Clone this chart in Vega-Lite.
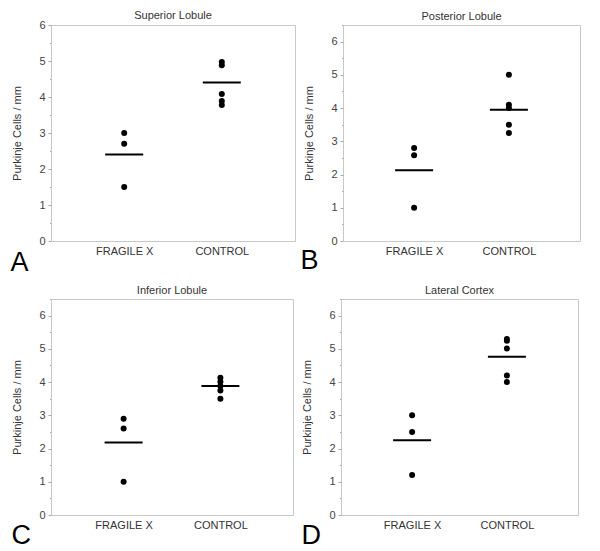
{
  "$schema": "https://vega.github.io/schema/vega-lite/v6.json",
  "padding": {"left": 9, "top": 9, "right": 0, "bottom": 0},
  "background": "white",
  "config": {
    "font": "Liberation Sans",
    "view": {"stroke": "#c8c8c8", "strokeWidth": 1},
    "title": {"fontSize": 11, "fontWeight": "normal", "color": "#333", "offset": 2.5, "font": "Liberation Sans"},
    "axis": {"labelOverlap": false},
    "axisY": {
      "domain": false, "grid": false, "labelFontSize": 11, "labelColor": "#444",
      "labelFont": "Liberation Sans", "tickColor": "#aaa", "labelPadding": 3,
      "labelFlush": false, "labelOverlap": false,
      "titleFontSize": 11, "titleFontWeight": "normal", "titleColor": "#333",
      "titleFont": "Liberation Sans", "titlePadding": 16
    },
    "axisX": {
      "domain": false, "ticks": false, "grid": false, "labelFontSize": 11, "labelColor": "#333",
      "labelFont": "Liberation Sans", "labelPadding": 4, "labelAngle": 0,
      "titleFontSize": 27, "titleFontWeight": "normal", "titleColor": "#000",
      "titleFont": "Liberation Sans", "titleAlign": "left", "titleBaseline": "alphabetic"
    }
  },
  "datasets": {
    "points": [
      {"panel": "A", "group": "FRAGILE X", "value": 3.0},
      {"panel": "A", "group": "FRAGILE X", "value": 2.7},
      {"panel": "A", "group": "FRAGILE X", "value": 1.5},
      {"panel": "A", "group": "CONTROL", "value": 4.97},
      {"panel": "A", "group": "CONTROL", "value": 4.88},
      {"panel": "A", "group": "CONTROL", "value": 4.08},
      {"panel": "A", "group": "CONTROL", "value": 3.89},
      {"panel": "A", "group": "CONTROL", "value": 3.78},
      {"panel": "B", "group": "FRAGILE X", "value": 2.8},
      {"panel": "B", "group": "FRAGILE X", "value": 2.58},
      {"panel": "B", "group": "FRAGILE X", "value": 1.0},
      {"panel": "B", "group": "CONTROL", "value": 5.0},
      {"panel": "B", "group": "CONTROL", "value": 4.1},
      {"panel": "B", "group": "CONTROL", "value": 4.0},
      {"panel": "B", "group": "CONTROL", "value": 3.5},
      {"panel": "B", "group": "CONTROL", "value": 3.25},
      {"panel": "C", "group": "FRAGILE X", "value": 2.9},
      {"panel": "C", "group": "FRAGILE X", "value": 2.6},
      {"panel": "C", "group": "FRAGILE X", "value": 1.0},
      {"panel": "C", "group": "CONTROL", "value": 4.13},
      {"panel": "C", "group": "CONTROL", "value": 4.01},
      {"panel": "C", "group": "CONTROL", "value": 3.88},
      {"panel": "C", "group": "CONTROL", "value": 3.75},
      {"panel": "C", "group": "CONTROL", "value": 3.5},
      {"panel": "D", "group": "FRAGILE X", "value": 3.0},
      {"panel": "D", "group": "FRAGILE X", "value": 2.5},
      {"panel": "D", "group": "FRAGILE X", "value": 1.2},
      {"panel": "D", "group": "CONTROL", "value": 5.3},
      {"panel": "D", "group": "CONTROL", "value": 5.24},
      {"panel": "D", "group": "CONTROL", "value": 5.01},
      {"panel": "D", "group": "CONTROL", "value": 4.2},
      {"panel": "D", "group": "CONTROL", "value": 4.0}
    ],
    "means": [
      {"panel": "A", "group": "FRAGILE X", "value": 2.4},
      {"panel": "A", "group": "CONTROL", "value": 4.4},
      {"panel": "B", "group": "FRAGILE X", "value": 2.13},
      {"panel": "B", "group": "CONTROL", "value": 3.95},
      {"panel": "C", "group": "FRAGILE X", "value": 2.18},
      {"panel": "C", "group": "CONTROL", "value": 3.88},
      {"panel": "D", "group": "FRAGILE X", "value": 2.25},
      {"panel": "D", "group": "CONTROL", "value": 4.76}
    ]
  },
  "spacing": 8,
  "vconcat": [
    {
      "spacing": 3,
      "hconcat": [
        {
          "width": 244, "height": 216,
          "title": {"text": "Superior Lobule", "offset": -2},
          "encoding": {
            "x": {"field": "group", "type": "nominal", "sort": ["FRAGILE X", "CONTROL"], "scale": {"type": "point", "padding": 0.75},
              "axis": {"title": "A", "titleX": -41, "titleY": 29}},
            "y": {"field": "value", "type": "quantitative", "scale": {"domain": [0, 6], "nice": false, "zero": true},
              "axis": {"title": "Purkinje Cells / mm", "values": [0, 0.5, 1, 1.5, 2, 2.5, 3, 3.5, 4, 4.5, 5, 5.5, 6],
                "format": ".0f", "labelOverlap": false,
                "labelExpr": "datum.value % 1 === 0 ? datum.label : ''",
                "labelFontSize": {"condition": {"test": "datum.value % 1 !== 0", "value": 1}, "value": 11},
                "tickSize": {"condition": {"test": "datum.value % 1 !== 0", "value": 1.5}, "value": 3}}}
          },
          "layer": [
            {
              "data": {"name": "points"},
              "transform": [{"filter": "datum.panel === 'A'"}],
              "mark": {"type": "circle", "size": 36, "opacity": 1, "color": "#000"}
            },
            {
              "data": {"name": "means"},
              "transform": [{"filter": "datum.panel === 'A'"}],
              "mark": {"type": "tick", "size": 38, "thickness": 2, "color": "#000", "opacity": 1}
            }
          ]
        },
        {
          "width": 237, "height": 216,
          "title": "Posterior Lobule",
          "encoding": {
            "x": {"field": "group", "type": "nominal", "sort": ["FRAGILE X", "CONTROL"], "scale": {"type": "point", "padding": 0.75},
              "axis": {"title": "B", "titleX": -43, "titleY": 27}},
            "y": {"field": "value", "type": "quantitative", "scale": {"domain": [0, 6.5], "nice": false, "zero": true},
              "axis": {"title": "Purkinje Cells / mm", "values": [0, 0.5, 1, 1.5, 2, 2.5, 3, 3.5, 4, 4.5, 5, 5.5, 6, 6.5],
                "format": ".0f", "labelOverlap": false,
                "labelExpr": "datum.value % 1 === 0 ? datum.label : ''",
                "labelFontSize": {"condition": {"test": "datum.value % 1 !== 0", "value": 1}, "value": 11},
                "tickSize": {"condition": {"test": "datum.value % 1 !== 0", "value": 1.5}, "value": 3}}}
          },
          "layer": [
            {
              "data": {"name": "points"},
              "transform": [{"filter": "datum.panel === 'B'"}],
              "mark": {"type": "circle", "size": 36, "opacity": 1, "color": "#000"}
            },
            {
              "data": {"name": "means"},
              "transform": [{"filter": "datum.panel === 'B'"}],
              "mark": {"type": "tick", "size": 38, "thickness": 2, "color": "#000", "opacity": 1}
            }
          ]
        }
      ]
    },
    {
      "spacing": 6,
      "hconcat": [
        {
          "width": 242, "height": 216,
          "title": "Inferior Lobule",
          "encoding": {
            "x": {"field": "group", "type": "nominal", "sort": ["FRAGILE X", "CONTROL"], "scale": {"type": "point", "padding": 0.75},
              "axis": {"title": "C", "titleX": -40, "titleY": 28}},
            "y": {"field": "value", "type": "quantitative", "scale": {"domain": [0, 6.5], "nice": false, "zero": true},
              "axis": {"title": "Purkinje Cells / mm", "values": [0, 0.5, 1, 1.5, 2, 2.5, 3, 3.5, 4, 4.5, 5, 5.5, 6, 6.5],
                "format": ".0f", "labelOverlap": false,
                "labelExpr": "datum.value % 1 === 0 ? datum.label : ''",
                "labelFontSize": {"condition": {"test": "datum.value % 1 !== 0", "value": 1}, "value": 11},
                "tickSize": {"condition": {"test": "datum.value % 1 !== 0", "value": 1.5}, "value": 3}}}
          },
          "layer": [
            {
              "data": {"name": "points"},
              "transform": [{"filter": "datum.panel === 'C'"}],
              "mark": {"type": "circle", "size": 36, "opacity": 1, "color": "#000"}
            },
            {
              "data": {"name": "means"},
              "transform": [{"filter": "datum.panel === 'C'"}],
              "mark": {"type": "tick", "size": 38, "thickness": 2, "color": "#000", "opacity": 1}
            }
          ]
        },
        {
          "width": 237, "height": 216,
          "title": "Lateral Cortex",
          "encoding": {
            "x": {"field": "group", "type": "nominal", "sort": ["FRAGILE X", "CONTROL"], "scale": {"type": "point", "padding": 0.75},
              "axis": {"title": "D", "titleX": -40, "titleY": 28}},
            "y": {"field": "value", "type": "quantitative", "scale": {"domain": [0, 6.5], "nice": false, "zero": true},
              "axis": {"title": "Purkinje Cells / mm", "values": [0, 0.5, 1, 1.5, 2, 2.5, 3, 3.5, 4, 4.5, 5, 5.5, 6, 6.5],
                "format": ".0f", "labelOverlap": false,
                "labelExpr": "datum.value % 1 === 0 ? datum.label : ''",
                "labelFontSize": {"condition": {"test": "datum.value % 1 !== 0", "value": 1}, "value": 11},
                "tickSize": {"condition": {"test": "datum.value % 1 !== 0", "value": 1.5}, "value": 3}}}
          },
          "layer": [
            {
              "data": {"name": "points"},
              "transform": [{"filter": "datum.panel === 'D'"}],
              "mark": {"type": "circle", "size": 36, "opacity": 1, "color": "#000"}
            },
            {
              "data": {"name": "means"},
              "transform": [{"filter": "datum.panel === 'D'"}],
              "mark": {"type": "tick", "size": 38, "thickness": 2, "color": "#000", "opacity": 1}
            }
          ]
        }
      ]
    }
  ]
}
